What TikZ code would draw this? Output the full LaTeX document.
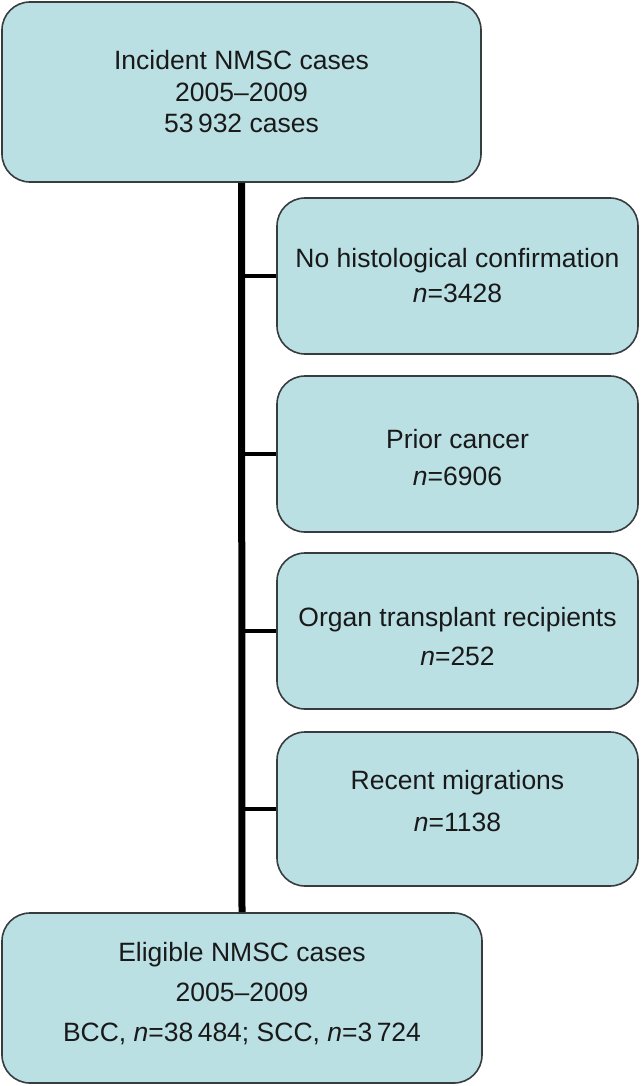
\documentclass[tikz,border=0pt]{standalone}
\usepackage{fontspec}
\setmainfont{Liberation Sans}
\definecolor{boxfill}{RGB}{187,224,228}
\definecolor{boxline}{RGB}{55,60,62}
\tikzset{
  flowbox/.style={draw=boxline, line width=1.6pt, fill=boxfill, rounded corners=28pt,
    inner sep=0pt, align=center, text=black!90},
  mainline/.style={line width=7pt, black},
  branchline/.style={line width=4pt, black},
}
\newcommand{\nn}{\textit{n}}
\newcommand{\shifted}[2]{\raisebox{\dimexpr#1-0.25em\relax}[0pt][0pt]{\begin{tabular}{@{}c@{}}#2\end{tabular}}}
\begin{document}
\begin{tikzpicture}[x=1pt,y=-1pt]
\useasboundingbox (0,0) rectangle (641,1086);
\node[flowbox, minimum width=479pt, minimum height=180pt,
  font={\fontsize{26.5}{31.5}\selectfont}] (top) at (241.5,92)
  {Incident NMSC cases\\2005--2009\\53\,932 cases};
\node[flowbox, minimum width=480pt, minimum height=170pt,
  font={\fontsize{26.5}{40}\selectfont}] (bot) at (242,998)
  {\shifted{5pt}{Eligible NMSC cases\\2005--2009\\BCC, \nn=38\,484; SCC, \nn=3\,724}};
\draw[mainline] (top.south) -- (bot.north);
\node[flowbox, minimum width=361pt, minimum height=156pt,
  font={\fontsize{26.5}{35}\selectfont}] (s1) at (457.5,276)
  {No histological confirmation\\\nn=3428};
\node[flowbox, minimum width=361pt, minimum height=156pt,
  font={\fontsize{26.5}{37}\selectfont}] (s2) at (457.5,454)
  {\shifted{-5pt}{Prior cancer\\\nn=6906}};
\node[flowbox, minimum width=361pt, minimum height=156pt,
  font={\fontsize{26.5}{39}\selectfont}] (s3) at (457.5,631)
  {\shifted{-7pt}{Organ transplant recipients\\\nn=252}};
\node[flowbox, minimum width=361pt, minimum height=154pt,
  font={\fontsize{26.5}{42}\selectfont}] (s4) at (457.5,809)
  {\shifted{7pt}{Recent migrations\\\nn=1138}};
\foreach \s in {s1,s2,s3,s4}
  \draw[branchline] (top.south |- \s.west) -- (\s.west);
\end{tikzpicture}
\end{document}
